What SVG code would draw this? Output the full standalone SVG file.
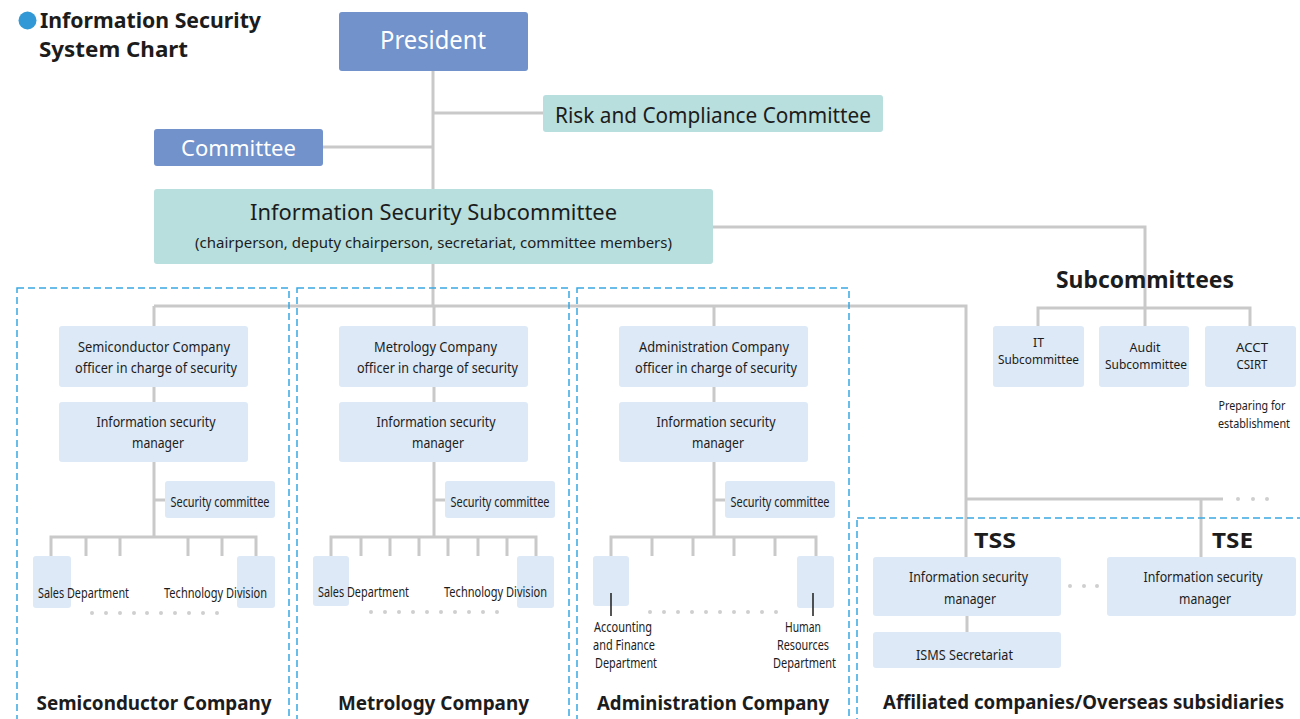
<svg xmlns="http://www.w3.org/2000/svg" width="1300" height="719" viewBox="0 0 1300 719">
<style>
text{font-family:"Noto Sans","Open Sans","Liberation Sans",sans-serif;fill:#1c1c1c}
.b{font-weight:bold}
.c{text-anchor:middle}
.dark{fill:#7192cb}
.teal{fill:#b8dfdd}
.lt{fill:#dde9f6}
.ln{stroke:#c9c9c9;stroke-width:3;fill:none}
.tick{stroke:#1c1c1c;stroke-width:1.5}
.dash{stroke:#3aa8e2;stroke-width:1.5;stroke-dasharray:7 4;fill:none}
.dot{fill:#cfcfcf}
.s15{font-size:15px}
.s14{font-size:14px}
.s13{font-size:13px}
.h{font-size:20px;font-weight:bold}
</style>
<rect width="1300" height="719" fill="#fff"/>

<g id="title">
<circle cx="27.5" cy="20.5" r="9" fill="#3399d6"/>
<text x="40" y="28" class="b" font-size="21" textLength="221" lengthAdjust="spacingAndGlyphs">Information Security</text>
<text x="39" y="57" class="b" font-size="21" textLength="149" lengthAdjust="spacingAndGlyphs">System Chart</text>
</g>

<g id="connectors">
<path class="ln" d="M433 71V306M433 113H543M323 147H433"/>
<path class="ln" d="M713 227H1145V326M1038 326V308H1250V326"/>
<path class="ln" d="M154 306H966V557M154 306V326M434 306V326M714 306V326"/>
<path class="ln" d="M154 387V402M154 462V537M154 500H165M51 556V537H256V556M86 537V556M120 537V556M188 537V556M222 537V556"/>
<path class="ln" d="M434 387V402M434 462V537M434 500H445M331 556V537H536V556M361 537V556M390 537V556M419 537V556M448 537V556M478 537V556M507 537V556"/>
<path class="ln" d="M714 387V402M714 462V537M714 500H725M611 556V537H816V556M652 537V556M693 537V556M734 537V556M775 537V556"/>
<path class="ln" d="M966 499H1223M1201 499V557M967 616V632"/>
<circle class="dot" cx="1238" cy="499" r="2"/><circle class="dot" cx="1253" cy="499" r="2"/><circle class="dot" cx="1267" cy="499" r="2"/>
<circle class="dot" cx="1070" cy="586" r="2"/><circle class="dot" cx="1084" cy="586" r="2"/><circle class="dot" cx="1097" cy="586" r="2"/>
</g>

<g id="group-frames">
<rect class="dash" x="17" y="288" width="272" height="440"/>
<rect class="dash" x="297" y="288" width="272" height="440"/>
<rect class="dash" x="577" y="288" width="272" height="440"/>
<rect class="dash" x="857" y="518" width="460" height="210"/>
</g>

<g id="president">
<rect class="dark" x="339" y="12" width="189" height="59" rx="3"/>
<text x="433" y="49" class="c" font-size="25" style="fill:#fff" textLength="106" lengthAdjust="spacingAndGlyphs">President</text>
</g>
<g id="risk-committee">
<rect class="teal" x="543" y="95" width="340" height="37" rx="3"/>
<text x="713" y="123" class="c" font-size="21" textLength="316" lengthAdjust="spacingAndGlyphs">Risk and Compliance Committee</text>
</g>
<g id="committee">
<rect class="dark" x="154" y="129" width="169" height="37" rx="3"/>
<text x="238.5" y="156" class="c" font-size="22" style="fill:#fff" textLength="115" lengthAdjust="spacingAndGlyphs">Committee</text>
</g>
<g id="is-subcommittee">
<rect class="teal" x="154" y="189" width="559" height="75" rx="3"/>
<text x="433.5" y="220" class="c" font-size="21" textLength="367" lengthAdjust="spacingAndGlyphs">Information Security Subcommittee</text>
<text x="433.5" y="248" class="c s15" textLength="477" lengthAdjust="spacingAndGlyphs">(chairperson, deputy chairperson, secretariat, committee members)</text>
</g>

<g id="subcommittees">
<text x="1145" y="288" class="c b" font-size="23" textLength="178" lengthAdjust="spacingAndGlyphs">Subcommittees</text>
</g>
<g id="it-subcommittee">
<rect class="lt" x="993" y="326" width="91" height="61" rx="3"/>
<text x="1038.5" y="347" class="c s13" textLength="11" lengthAdjust="spacingAndGlyphs">IT</text>
<text x="1038.5" y="364" class="c s13" textLength="81" lengthAdjust="spacingAndGlyphs">Subcommittee</text>
</g>
<g id="audit-subcommittee">
<rect class="lt" x="1099" y="326" width="90" height="61" rx="3"/>
<text x="1145" y="352" class="c s13" textLength="31" lengthAdjust="spacingAndGlyphs">Audit</text>
<text x="1146" y="369" class="c s13" textLength="82" lengthAdjust="spacingAndGlyphs">Subcommittee</text>
</g>
<g id="acct-csirt">
<rect class="lt" x="1205" y="326" width="91" height="61" rx="3"/>
<text x="1252" y="352" class="c s13" textLength="32" lengthAdjust="spacingAndGlyphs">ACCT</text>
<text x="1252" y="369" class="c s13" textLength="31" lengthAdjust="spacingAndGlyphs">CSIRT</text>
<text x="1252" y="410" class="c s13" textLength="67" lengthAdjust="spacingAndGlyphs">Preparing for</text>
<text x="1254" y="428" class="c s13" textLength="72" lengthAdjust="spacingAndGlyphs">establishment</text>
</g>

<g id="semi-officer">
<rect class="lt" x="59" y="326" width="189" height="61" rx="3"/>
<text x="154" y="352" class="c s15" textLength="152" lengthAdjust="spacingAndGlyphs">Semiconductor Company</text>
<text x="156" y="373" class="c s15" textLength="162" lengthAdjust="spacingAndGlyphs">officer in charge of security</text>
</g>
<g id="semi-manager">
<rect class="lt" x="59" y="402" width="189" height="60" rx="3"/>
<text x="156" y="427" class="c s15" textLength="119" lengthAdjust="spacingAndGlyphs">Information security</text>
<text x="158" y="448" class="c s15" textLength="52" lengthAdjust="spacingAndGlyphs">manager</text>
</g>
<g id="semi-seccom">
<rect class="lt" x="165" y="481" width="110" height="37" rx="3"/>
<text x="220" y="507" class="c s14" textLength="99" lengthAdjust="spacingAndGlyphs">Security committee</text>
</g>
<g id="semi-sales">
<rect class="lt" x="33" y="556" width="38" height="52" rx="3"/>
<text x="38" y="598" class="s14" textLength="91" lengthAdjust="spacingAndGlyphs">Sales Department</text>
</g>
<g id="semi-tech">
<rect class="lt" x="237" y="556" width="38" height="52" rx="3"/>
<text x="164" y="598" class="s14" textLength="103" lengthAdjust="spacingAndGlyphs">Technology Division</text>
</g>
<g id="semi-dots" class="dot">
<circle cx="92" cy="613" r="2"/><circle cx="106" cy="613" r="2"/><circle cx="120" cy="613" r="2"/><circle cx="134" cy="613" r="2"/><circle cx="147" cy="613" r="2"/><circle cx="161" cy="613" r="2"/><circle cx="175" cy="613" r="2"/><circle cx="189" cy="613" r="2"/><circle cx="203" cy="613" r="2"/><circle cx="217" cy="613" r="2"/>
</g>
<g id="semi-label">
<text x="154" y="710" class="c h" textLength="235" lengthAdjust="spacingAndGlyphs">Semiconductor Company</text>
</g>

<g id="metro-officer">
<rect class="lt" x="339" y="326" width="189" height="61" rx="3"/>
<text x="435.5" y="352" class="c s15" textLength="123" lengthAdjust="spacingAndGlyphs">Metrology Company</text>
<text x="437.5" y="373" class="c s15" textLength="161" lengthAdjust="spacingAndGlyphs">officer in charge of security</text>
</g>
<g id="metro-manager">
<rect class="lt" x="339" y="402" width="189" height="60" rx="3"/>
<text x="436" y="427" class="c s15" textLength="119" lengthAdjust="spacingAndGlyphs">Information security</text>
<text x="438" y="448" class="c s15" textLength="52" lengthAdjust="spacingAndGlyphs">manager</text>
</g>
<g id="metro-seccom">
<rect class="lt" x="445" y="481" width="110" height="37" rx="3"/>
<text x="500" y="507" class="c s14" textLength="99" lengthAdjust="spacingAndGlyphs">Security committee</text>
</g>
<g id="metro-sales">
<rect class="lt" x="313" y="556" width="36" height="50" rx="3"/>
<text x="318" y="597" class="s14" textLength="91" lengthAdjust="spacingAndGlyphs">Sales Department</text>
</g>
<g id="metro-tech">
<rect class="lt" x="517" y="556" width="37" height="52" rx="3"/>
<text x="444" y="597" class="s14" textLength="103" lengthAdjust="spacingAndGlyphs">Technology Division</text>
</g>
<g id="metro-dots" class="dot">
<circle cx="371" cy="612" r="2"/><circle cx="385" cy="612" r="2"/><circle cx="399" cy="612" r="2"/><circle cx="413" cy="612" r="2"/><circle cx="427" cy="612" r="2"/><circle cx="441" cy="612" r="2"/><circle cx="455" cy="612" r="2"/><circle cx="469" cy="612" r="2"/><circle cx="483" cy="612" r="2"/><circle cx="497" cy="612" r="2"/>
</g>
<g id="metro-label">
<text x="433.5" y="710" class="c h" textLength="191" lengthAdjust="spacingAndGlyphs">Metrology Company</text>
</g>

<g id="admin-officer">
<rect class="lt" x="619" y="326" width="189" height="61" rx="3"/>
<text x="714" y="352" class="c s15" textLength="150" lengthAdjust="spacingAndGlyphs">Administration Company</text>
<text x="716" y="373" class="c s15" textLength="162" lengthAdjust="spacingAndGlyphs">officer in charge of security</text>
</g>
<g id="admin-manager">
<rect class="lt" x="619" y="402" width="189" height="60" rx="3"/>
<text x="716" y="427" class="c s15" textLength="119" lengthAdjust="spacingAndGlyphs">Information security</text>
<text x="718" y="448" class="c s15" textLength="52" lengthAdjust="spacingAndGlyphs">manager</text>
</g>
<g id="admin-seccom">
<rect class="lt" x="725" y="481" width="110" height="37" rx="3"/>
<text x="780" y="507" class="c s14" textLength="99" lengthAdjust="spacingAndGlyphs">Security committee</text>
</g>
<g id="admin-accounting">
<rect class="lt" x="593" y="556" width="36" height="50" rx="3"/>
<line class="tick" x1="611" y1="593" x2="611" y2="616"/>
<text x="623" y="632" class="c s14" textLength="58" lengthAdjust="spacingAndGlyphs">Accounting</text>
<text x="624" y="650" class="c s14" textLength="62" lengthAdjust="spacingAndGlyphs">and Finance</text>
<text x="626" y="668" class="c s14" textLength="62" lengthAdjust="spacingAndGlyphs">Department</text>
</g>
<g id="admin-hr">
<rect class="lt" x="797" y="556" width="37" height="52" rx="3"/>
<line class="tick" x1="813" y1="593" x2="813" y2="616"/>
<text x="803" y="632" class="c s14" textLength="36" lengthAdjust="spacingAndGlyphs">Human</text>
<text x="803" y="650" class="c s14" textLength="52" lengthAdjust="spacingAndGlyphs">Resources</text>
<text x="804.5" y="668" class="c s14" textLength="63" lengthAdjust="spacingAndGlyphs">Department</text>
</g>
<g id="admin-dots" class="dot">
<circle cx="650" cy="612" r="2"/><circle cx="664" cy="612" r="2"/><circle cx="678" cy="612" r="2"/><circle cx="692" cy="612" r="2"/><circle cx="706" cy="612" r="2"/><circle cx="720" cy="612" r="2"/><circle cx="734" cy="612" r="2"/><circle cx="748" cy="612" r="2"/><circle cx="762" cy="612" r="2"/><circle cx="776" cy="612" r="2"/>
</g>
<g id="admin-label">
<text x="713" y="710" class="c h" textLength="232" lengthAdjust="spacingAndGlyphs">Administration Company</text>
</g>

<g id="tss">
<text x="974" y="548" class="b" font-size="22" textLength="42" lengthAdjust="spacingAndGlyphs">TSS</text>
<rect class="lt" x="873" y="557" width="188" height="59" rx="3"/>
<text x="968.5" y="582" class="c s15" textLength="119" lengthAdjust="spacingAndGlyphs">Information security</text>
<text x="970" y="604" class="c s15" textLength="52" lengthAdjust="spacingAndGlyphs">manager</text>
</g>
<g id="isms">
<rect class="lt" x="873" y="632" width="188" height="36" rx="3"/>
<text x="964.5" y="660" class="c s14" textLength="97" lengthAdjust="spacingAndGlyphs">ISMS Secretariat</text>
</g>
<g id="tse">
<text x="1212" y="548" class="b" font-size="22" textLength="41" lengthAdjust="spacingAndGlyphs">TSE</text>
<rect class="lt" x="1107" y="557" width="189" height="59" rx="3"/>
<text x="1203" y="582" class="c s15" textLength="119" lengthAdjust="spacingAndGlyphs">Information security</text>
<text x="1205" y="604" class="c s15" textLength="52" lengthAdjust="spacingAndGlyphs">manager</text>
</g>
<g id="affiliated-label">
<text x="1083.5" y="709" class="c h" textLength="401" lengthAdjust="spacingAndGlyphs">Affiliated companies/Overseas subsidiaries</text>
</g>
</svg>
